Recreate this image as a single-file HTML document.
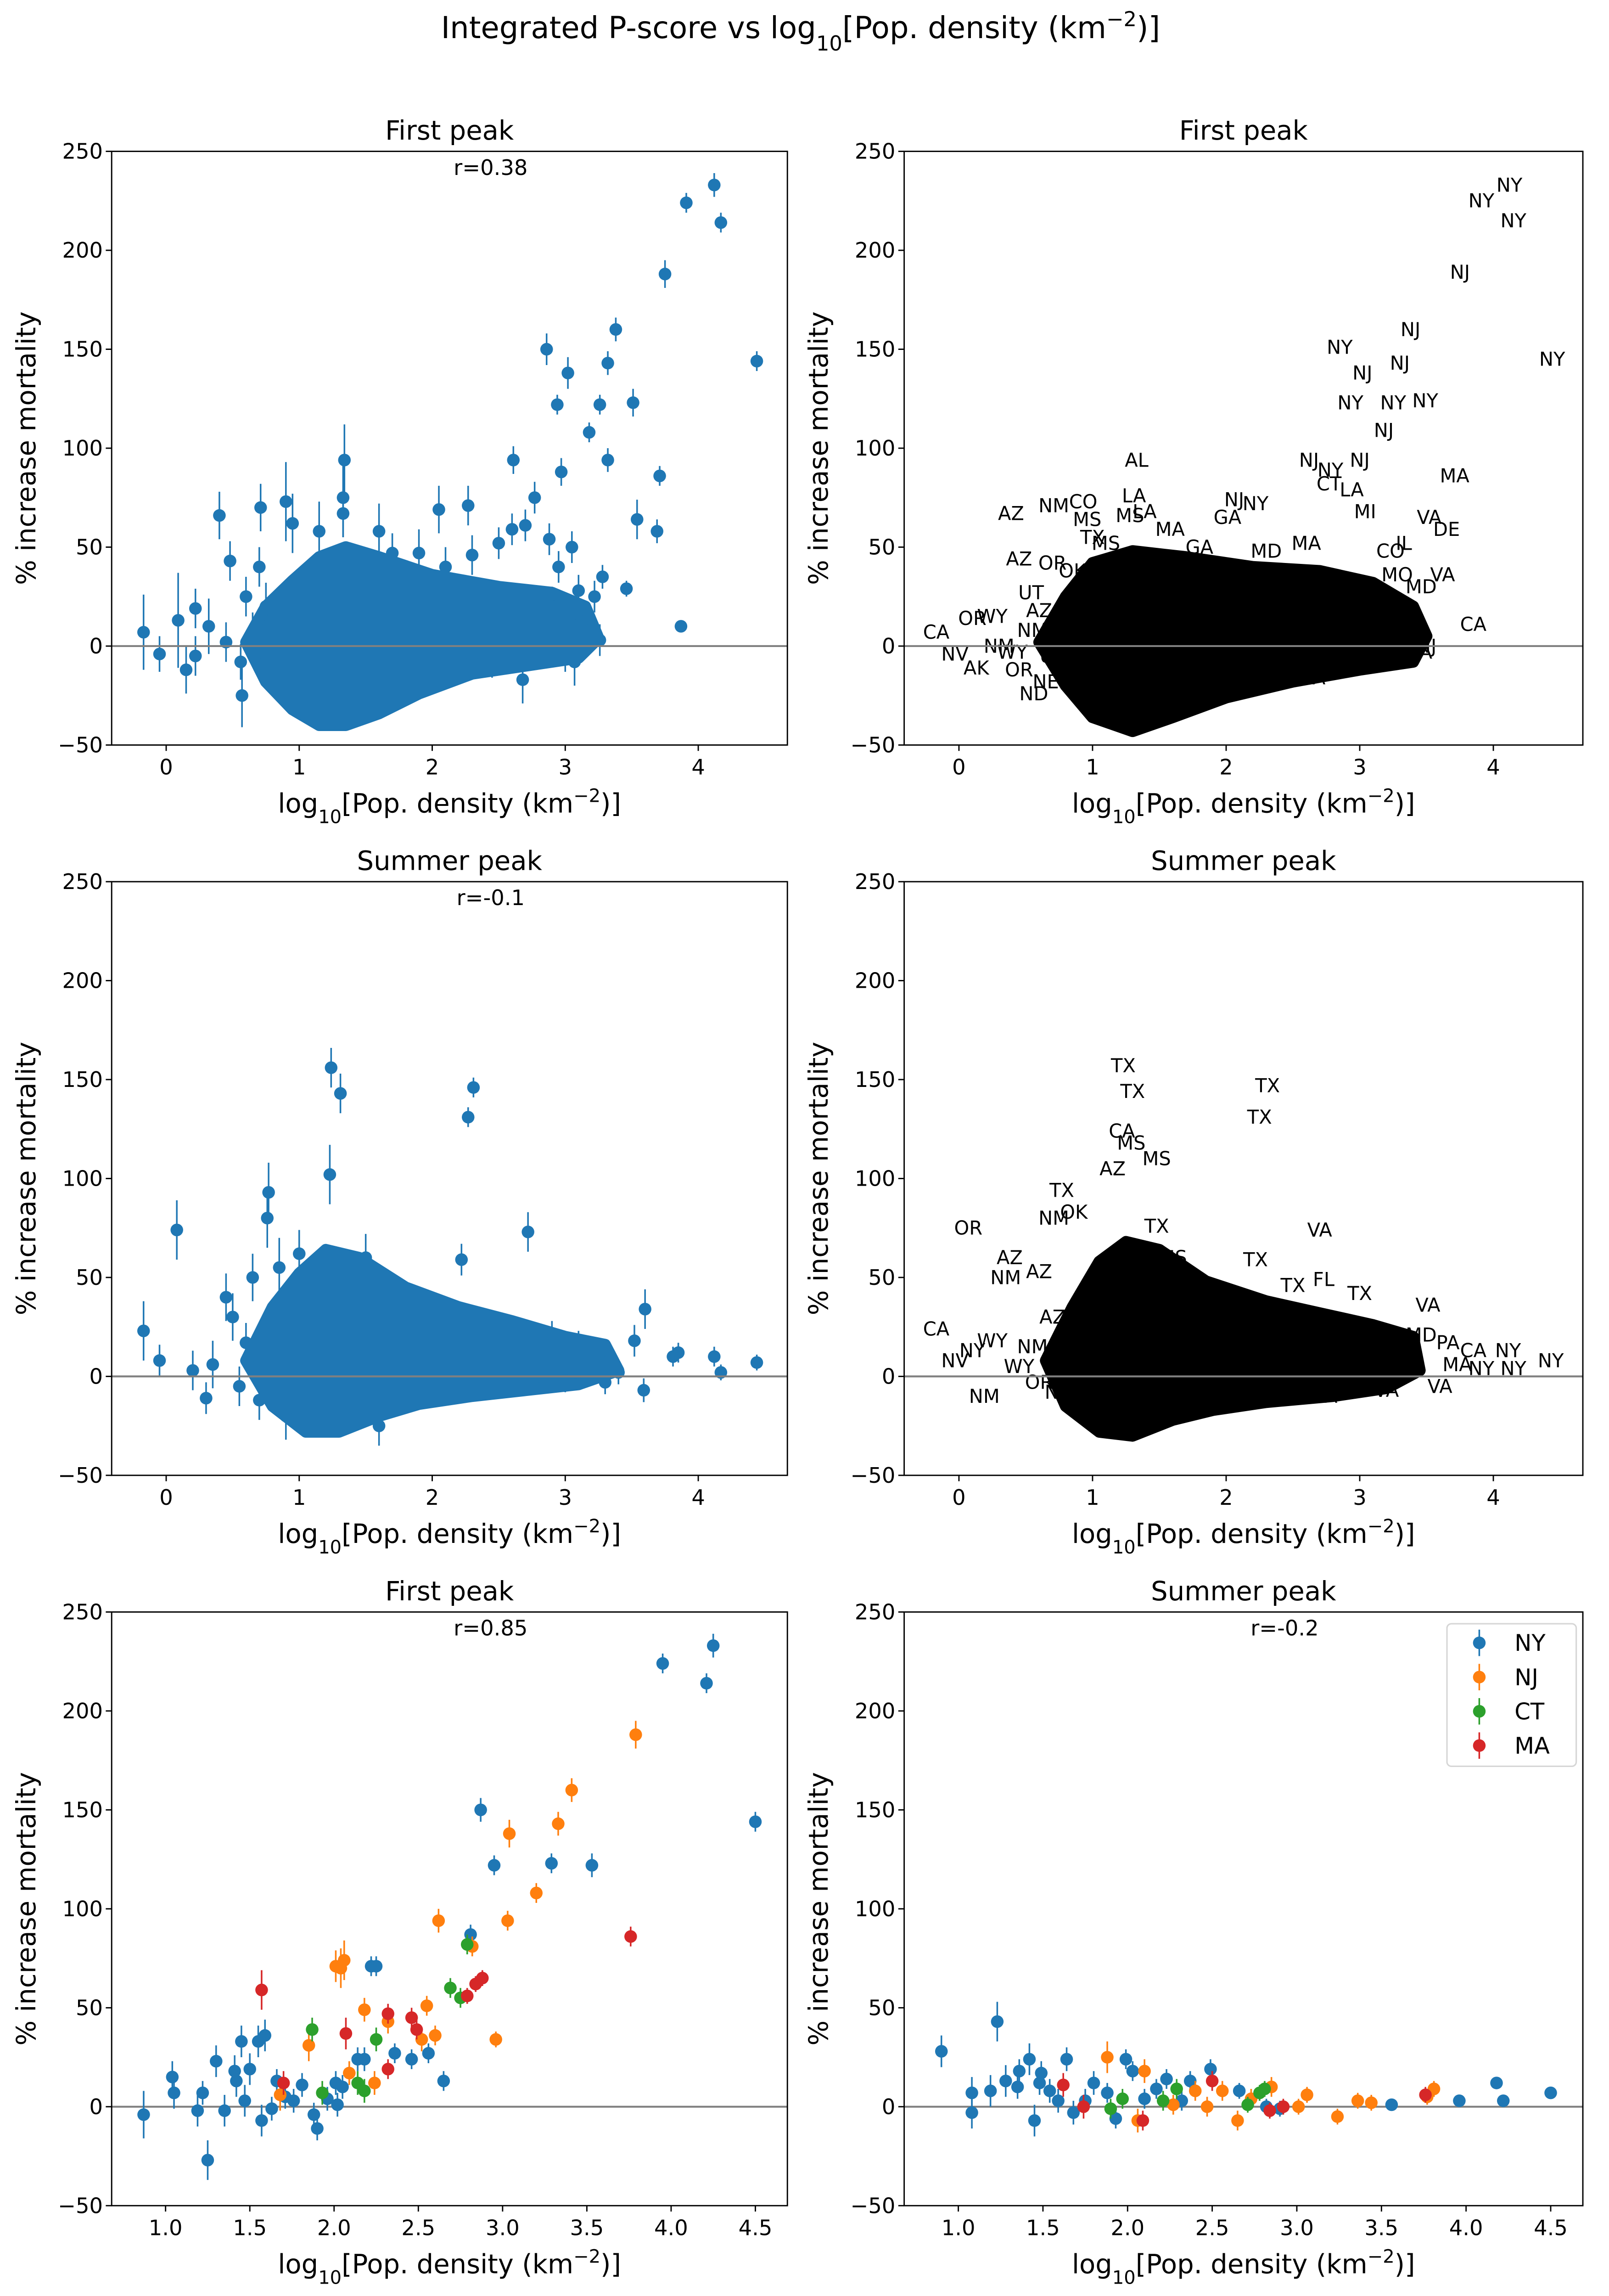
<!DOCTYPE html>
<html><head><meta charset="utf-8"><style>
html,body{margin:0;padding:0;background:#fff;overflow:hidden}
svg{display:block}
text{font-family:"DejaVu Sans","Liberation Sans",sans-serif}
</style></head><body>
<svg id="fig" xmlns="http://www.w3.org/2000/svg" width="3505" height="5026" viewBox="0 0 1095.3 1570.6">
<rect width="1095.3" height="1570.6" fill="#fff"/>
<text x="545" y="26" font-size="20.5" text-anchor="middle">Integrated P-score vs log<tspan baseline-shift="sub" font-size="14">10</tspan>[Pop. density (km<tspan baseline-shift="super" font-size="14">−2</tspan>)]</text>
<g id="plots"></g>
</svg>
<script>
// ---------- data ----------
const yTicks=[-50,0,50,100,150,200,250];
const xTicksTop=[0,1,2,3,4];
const xTicksBottom=[1.0,1.5,2.0,2.5,3.0,3.5,4.0,4.5];
// panel 1 (first peak, all counties) [x, y, err]
const p1Points=[[4.12,233,6],[3.91,224,5],[4.17,214,5],[3.75,188,7],[4.44,144,5],[3.38,160,6],[2.86,150,8],[3.02,138,8],[3.32,143,6],[2.94,122,5],[3.26,122,5],[3.51,123,7],[3.18,108,5],[1.34,94,18],[3.71,86,5],[3.32,94,6],[2.61,94,7],[2.97,88,7],[0.40,66,12],[0.71,70,12],[1.33,67,12],[2.27,71,10],[2.77,75,8],[3.54,64,10],[3.69,58,6],[3.87,10,3],[3.46,29,4],[-0.17,7,19],[-0.05,-4,9],[0.09,13,24],[0.48,43,10],[2.70,61,8],[2.88,54,8],[2.95,40,8],[3.05,50,8],[3.28,35,6],[3.22,25,8],[3.12,12,6],[3.0,-5,8],[3.07,-8,12],[2.68,-17,12],[3.26,3,8],[0.22,19,10],[0.32,10,14],[0.15,-12,12],[0.22,-5,10],[0.57,-25,16],[0.56,-8,9],[0.7,40,10],[0.9,73,20],[0.95,62,15],[1.33,75,20],[1.6,58,14],[2.05,69,12],[2.5,52,8],[2.1,40,10],[1.9,47,12],[2.3,46,10],[2.6,59,8],[0.6,25,10],[0.75,20,12],[0.45,2,10],[0.65,5,12],[0.8,-15,10],[0.9,-10,12],[1.2,-30,12],[1.3,-28,10],[2.45,-8,8],[2.8,-2,8],[2.9,20,10],[3.1,28,8],[2.3,-5,10],[1.7,47,10],[1.15,58,15]];
// envelope of the dense cloud (data coords) for panel 1
const p1CloudX=[0.6,0.75,0.95,1.15,1.35,1.6,2.0,2.5,2.9,3.15,3.25,3.1,2.7,2.3,1.9,1.6,1.35,1.15,0.95,0.75];
const p1CloudY=[2,20,33,45,50,45,36,30,27,20,4,-6,-10,-14,-24,-34,-40,-40,-32,-18];
// panel 2 labels
const p2Labels=[[4.12,233,"NY"],[3.91,225,"NY"],[4.15,215,"NY"],[3.75,189,"NJ"],[3.38,160,"NJ"],[2.85,151,"NY"],[3.3,143,"NJ"],[3.02,138,"NJ"],[4.44,145,"NY"],[2.93,123,"NY"],[3.25,123,"NY"],[3.49,124,"NY"],[3.18,109,"NJ"],[3.0,94,"NJ"],[2.62,94,"NJ"],[1.33,94,"AL"],[3.71,86,"MA"],[2.78,89,"NY"],[2.77,82,"CT"],[2.94,79,"LA"],[3.04,68,"MI"],[3.52,65,"VA"],[3.65,59,"DE"],[0.71,71,"NM"],[0.93,73,"CO"],[0.39,67,"AZ"],[1.31,76,"LA"],[0.96,64,"MS"],[1.39,68,"LA"],[1.28,66,"MS"],[1.58,59,"MA"],[2.06,74,"NJ"],[2.22,72,"NY"],[2.01,65,"GA"],[0.45,44,"AZ"],[0.7,42,"OR"],[0.54,27,"UT"],[-0.17,7,"CA"],[-0.03,-4,"NV"],[0.13,-11,"AK"],[0.56,-24,"ND"],[2.65,-16,"VA"],[2.46,-7,"TX"],[3.85,11,"CA"],[3.62,36,"VA"],[3.46,30,"MD"],[3.05,-7,"VA"],[3.28,36,"MO"],[3.16,25,"WI"],[3.23,48,"CO"],[3.33,52,"IL"],[0.25,15,"WY"],[0.1,14,"OR"],[0.3,0,"NM"],[1.0,55,"TX"],[1.8,50,"GA"],[2.3,48,"MD"],[2.6,52,"MA"],[0.4,-3,"WY"],[0.55,8,"NM"],[0.6,18,"AZ"],[0.45,-12,"OR"],[0.7,-5,"UT"],[0.85,38,"OK"],[1.1,52,"MS"],[0.65,-18,"NE"],[3.4,10,"PA"],[3.5,0,"NJ"],[3.45,-3,"VA"]];
const p2CloudX=[0.6,0.8,1.0,1.3,1.7,2.2,2.7,3.1,3.4,3.5,3.4,3.0,2.5,2.0,1.6,1.3,1.0,0.8];
const p2CloudY=[2,25,42,48,45,40,38,32,20,5,-8,-12,-18,-26,-36,-43,-36,-20];
// panel 3 (summer peak, all counties)
const p3Points=[[1.24,156,10],[1.31,143,10],[2.31,146,5],[2.27,131,5],[0.08,74,15],[-0.17,23,15],[-0.05,8,8],[0.76,80,15],[0.77,93,15],[1.23,102,15],[2.72,73,10],[2.22,59,8],[3.52,18,8],[3.81,10,5],[3.85,12,5],[4.12,10,5],[4.17,2,4],[4.44,7,4],[3.59,-7,6],[3.6,34,10],[0.2,3,10],[0.35,6,12],[0.3,-11,8],[0.6,17,10],[0.5,30,12],[0.45,40,12],[0.65,50,12],[0.85,55,15],[3.3,-3,6],[3.2,5,8],[3.4,2,6],[3.0,-2,6],[2.8,5,8],[0.55,-5,10],[0.7,-12,10],[0.9,-20,12],[1.6,-25,10],[1.0,62,12],[1.5,60,12],[3.1,15,8],[2.9,20,8]];
const p3CloudX=[0.6,0.8,1.0,1.2,1.45,1.8,2.2,2.6,3.0,3.3,3.4,3.1,2.7,2.3,1.9,1.6,1.3,1.05,0.8];
const p3CloudY=[8,35,52,64,60,45,35,28,20,16,3,-4,-7,-10,-14,-20,-28,-28,-15];
const p4Labels=[[1.23,157,"TX"],[1.3,144,"TX"],[2.31,147,"TX"],[2.25,131,"TX"],[1.22,124,"CA"],[1.29,118,"MS"],[1.48,110,"MS"],[1.15,105,"AZ"],[0.77,94,"TX"],[0.71,80,"NM"],[0.86,83,"OK"],[0.07,75,"OR"],[2.7,74,"VA"],[2.22,59,"TX"],[1.48,76,"TX"],[0.38,60,"AZ"],[0.35,50,"NM"],[0.6,53,"AZ"],[2.73,49,"FL"],[2.5,46,"TX"],[3.0,42,"TX"],[3.51,36,"VA"],[-0.17,24,"CA"],[-0.03,8,"NV"],[0.19,-10,"NM"],[1.19,-27,"TN"],[4.43,8,"NY"],[4.11,13,"NY"],[4.15,4,"NY"],[3.91,4,"NY"],[3.85,13,"CA"],[3.6,-5,"VA"],[2.74,-10,"VA"],[3.2,-7,"VA"],[3.46,21,"MD"],[3.66,17,"PA"],[3.73,6,"MA"],[0.25,18,"WY"],[0.1,13,"NY"],[1.6,60,"MS"],[0.45,5,"WY"],[0.6,-3,"OR"],[0.55,15,"NM"],[0.7,30,"AZ"],[0.75,-8,"ND"]];
const p4CloudX=[0.65,0.85,1.05,1.25,1.5,1.85,2.3,2.7,3.1,3.4,3.45,3.2,2.8,2.3,1.9,1.6,1.3,1.05,0.8];
const p4CloudY=[8,35,58,68,64,48,38,32,26,20,3,-6,-10,-13,-17,-22,-30,-28,-15];
// panel 5 (first peak, tri-state) [x,y,err]
const p5NY=[[0.87,-4,12],[1.25,-27,10],[1.04,15,8],[1.05,7,8],[1.19,-2,8],[1.22,7,6],[1.3,23,8],[1.35,-2,8],[1.42,13,8],[1.45,33,8],[1.5,19,8],[1.55,33,8],[1.59,36,8],[1.57,-7,8],[1.63,-1,6],[1.66,13,6],[1.71,5,6],[1.76,3,6],[1.81,11,6],[1.88,-4,6],[1.9,-11,6],[1.96,4,6],[2.01,12,6],[2.02,1,6],[2.14,24,6],[2.18,24,6],[2.22,71,5],[2.25,71,5],[2.36,27,5],[2.46,24,5],[2.56,27,5],[2.65,13,5],[2.81,87,5],[2.87,150,6],[2.95,122,5],[3.29,123,5],[3.53,122,6],[3.95,224,5],[4.25,233,6],[4.21,214,5],[4.5,144,5],[1.41,18,8],[1.47,3,8],[2.05,10,6]];
const p5NJ=[[3.79,188,7],[3.41,160,6],[3.33,143,6],[3.04,138,7],[3.2,108,5],[2.62,94,6],[3.03,94,5],[2.82,81,5],[2.96,34,4],[2.04,70,10],[2.06,74,10],[2.01,71,8],[1.85,31,8],[2.55,51,5],[2.52,34,6],[2.6,36,5],[2.32,43,6],[2.18,49,6],[2.09,17,6],[1.68,6,8],[2.24,12,6]];
const p5CT=[[2.79,82,5],[2.69,60,5],[2.75,55,5],[1.87,39,6],[2.25,34,6],[1.93,7,6],[2.18,8,6],[2.14,12,6]];
const p5MA=[[1.57,59,10],[3.76,86,5],[2.88,65,4],[2.84,62,4],[2.79,56,4],[2.32,47,5],[2.07,37,8],[2.49,39,5],[2.32,19,5],[1.7,12,6],[2.46,45,5]];
// panel 6 (summer peak, tri-state)
const p6NY=[[0.9,28,8],[1.23,43,10],[1.08,-3,8],[1.08,7,8],[1.19,8,8],[1.28,13,8],[1.35,10,6],[1.36,18,6],[1.42,24,8],[1.45,-7,8],[1.48,12,6],[1.54,8,6],[1.59,3,6],[1.64,24,6],[1.68,-3,6],[1.8,12,6],[1.88,7,5],[1.93,-6,5],[1.99,24,5],[2.03,18,5],[2.1,4,5],[2.17,9,5],[2.23,14,5],[2.32,3,5],[2.37,13,5],[2.49,19,5],[2.66,8,4],[2.82,0,4],[2.9,-1,4],[3.56,1,3],[3.96,3,3],[4.18,12,3],[4.22,3,3],[4.5,7,3],[1.49,17,6],[1.75,3,6]];
const p6NJ=[[1.88,25,8],[2.1,18,6],[2.06,-7,6],[2.27,1,5],[2.4,8,5],[2.47,0,5],[2.56,8,5],[2.65,-7,5],[2.73,4,5],[2.85,10,5],[3.01,0,4],[3.06,6,4],[3.24,-5,4],[3.36,3,4],[3.44,2,4],[3.81,9,4],[3.77,5,4]];
const p6CT=[[1.9,-1,5],[1.97,4,5],[2.21,3,5],[2.29,9,5],[2.71,1,4],[2.78,7,4],[2.81,9,4]];
const p6MA=[[1.62,11,6],[2.09,-7,5],[2.5,13,5],[1.74,0,6],[2.84,-2,4],[2.92,0,4],[3.76,6,4]];
const legendNames=["NY","NJ","CT","MA"];

// ---------- layout ----------
const C={NY:"#1f77b4",NJ:"#ff7f0e",CT:"#2ca02c",MA:"#d62728"};
const NS="http://www.w3.org/2000/svg";
const root=document.getElementById('plots');
function mk(tag,attrs,parent){const e=document.createElementNS(NS,tag);for(const k in attrs)e.setAttribute(k,attrs[k]);(parent||root).appendChild(e);return e;}
const LX=[76,615.5], RX=[536,1077.5], TY=[103,600,1097];
const H=404;
function panel(col,row,xd,xt,decimals,title,rtxt,name){
  const p={x0:LX[col],x1:RX[col],y0:TY[row],y1:TY[row]+H,xd:xd};
  p.sx=v=>p.x0+(v-xd[0])/(xd[1]-xd[0])*(p.x1-p.x0);
  p.sy=v=>p.y1-(v+50)/300*(p.y1-p.y0);
  const g=mk('g',{});
  
  
  p.g=g;
  const clip=mk('clipPath',{id:'c'+name},g);
  mk('rect',{x:p.x0,y:p.y0,width:p.x1-p.x0,height:p.y1-p.y0},clip);
  p.plot=mk('g',{'clip-path':'url(#c'+name+')'},g);
  const z=mk('line',{x1:p.x0,x2:p.x1,y1:p.sy(0),y2:p.sy(0),stroke:'#808080','stroke-width':1.3},p.plot);
  
  
  p.z=z;
  yTicks.forEach(t=>{const y=p.sy(t);
    mk('line',{x1:p.x0-4,x2:p.x0,y1:y,y2:y,stroke:'#000','stroke-width':0.9},g);
    const tx=mk('text',{x:p.x0-6,y:y+5,'font-size':14.5,'text-anchor':'end'},g);tx.textContent=(t<0?'−':'')+Math.abs(t);
    
    });
  xt.forEach(t=>{const x=p.sx(t);
    mk('line',{x1:x,x2:x,y1:p.y1,y2:p.y1+4,stroke:'#000','stroke-width':0.9},g);
    const tx=mk('text',{x:x,y:p.y1+20,'font-size':14.5,'text-anchor':'middle'},g);tx.textContent=t.toFixed(decimals);
    
    });
  const fr=mk('rect',{x:p.x0,y:p.y0,width:p.x1-p.x0,height:p.y1-p.y0,fill:'none',stroke:'#000','stroke-width':0.9},g);
  
  
  const cx=(p.x0+p.x1)/2;
  const tt=mk('text',{x:cx,y:p.y0-8,'font-size':18,'text-anchor':'middle'},g);tt.textContent=title;
  
  
  if(rtxt){const r=mk('text',{x:cx+28,y:p.y0+16,'font-size':14.5,'text-anchor':'middle'},g);r.textContent=rtxt;
    
    }
  const xl=mk('text',{x:cx,y:p.y1+46,'font-size':18,'text-anchor':'middle'},g);
  xl.innerHTML='log<tspan baseline-shift="sub" font-size="12.5">10</tspan>[Pop. density (km<tspan baseline-shift="super" font-size="12.5">−2</tspan>)]';
  
  
  const yl=mk('text',{x:0,y:0,'font-size':18,'text-anchor':'middle',transform:`translate(${p.x0-52},${(p.y0+p.y1)/2}) rotate(-90)`},g);
  yl.textContent='% increase mortality';
  
  
  return p;
}
function cloud(p,xs,ys,color,name){
  const pts=xs.map((x,i)=>p.sx(x).toFixed(1)+','+p.sy(ys[i]).toFixed(1)).join(' ');
  const e=mk('polygon',{points:pts,fill:color,stroke:color,'stroke-width':8,'stroke-linejoin':'round'},p.plot);
  
  
}
function points(p,arr,color,name){
  arr.forEach(d=>{
    const x=p.sx(d[0]),y=p.sy(d[1]);
    const l=mk('line',{x1:x,x2:x,y1:p.sy(d[1]-d[2]),y2:p.sy(d[1]+d[2]),stroke:color,'stroke-width':1.1},p.plot);
    
    
    const c=mk('circle',{cx:x,cy:y,r:4.3,fill:color},p.plot);
    
    
  });
}
function labels(p,arr,name){
  arr.forEach(d=>{
    const t=mk('text',{x:p.sx(d[0]),y:p.sy(d[1])+4.5,'font-size':13,'text-anchor':'middle'},p.plot);
    t.textContent=d[2];
    
    
  });
}
const xdTop=[-0.41,4.67];
const p1=panel(0,0,xdTop,xTicksTop,0,'First peak','r=0.38','panel-first-peak-all');
cloud(p1,p1CloudX,p1CloudY,C.NY,'county-cloud');
points(p1,p1Points,C.NY,'county');
p1.plot.appendChild(p1.z);
const p2=panel(1,0,xdTop,xTicksTop,0,'First peak','','panel-first-peak-labels');
cloud(p2,p2CloudX,p2CloudY,'#000','label-cloud');
labels(p2,p2Labels,'state-label');
p2.plot.appendChild(p2.z);
const p3=panel(0,1,xdTop,xTicksTop,0,'Summer peak','r=-0.1','panel-summer-peak-all');
cloud(p3,p3CloudX,p3CloudY,C.NY,'county-cloud');
points(p3,p3Points,C.NY,'county');
p3.plot.appendChild(p3.z);
const p4=panel(1,1,xdTop,xTicksTop,0,'Summer peak','','panel-summer-peak-labels');
cloud(p4,p4CloudX,p4CloudY,'#000','label-cloud');
labels(p4,p4Labels,'state-label');
p4.plot.appendChild(p4.z);
const xdB=[0.68,4.69];
const p5=panel(0,2,xdB,xTicksBottom,1,'First peak','r=0.85','panel-first-peak-tristate');
points(p5,p5NY,C.NY,'ny');points(p5,p5NJ,C.NJ,'nj');points(p5,p5CT,C.CT,'ct');points(p5,p5MA,C.MA,'ma');
const p6=panel(1,2,xdB,xTicksBottom,1,'Summer peak','r=-0.2','panel-summer-peak-tristate');
points(p6,p6NY,C.NY,'ny');points(p6,p6NJ,C.NJ,'nj');points(p6,p6CT,C.CT,'ct');points(p6,p6MA,C.MA,'ma');
// legend
const lg=mk('g',{});


mk('rect',{x:985,y:1105,width:88,height:97,rx:3,fill:'#fff',stroke:'#d6d6d6','stroke-width':1},lg);
legendNames.forEach((n,i)=>{
  const y=1118+i*23.3;
  const e=mk('g',{},lg);
  
  
  mk('line',{x1:1007,x2:1007,y1:y-9,y2:y+9,stroke:C[n],'stroke-width':1.1},e);
  mk('circle',{cx:1007,cy:y,r:4.3,fill:C[n]},e);
  const t=mk('text',{x:1031,y:y+5.5,'font-size':15.5},e);t.textContent=n;
});
</script>
</body></html>
